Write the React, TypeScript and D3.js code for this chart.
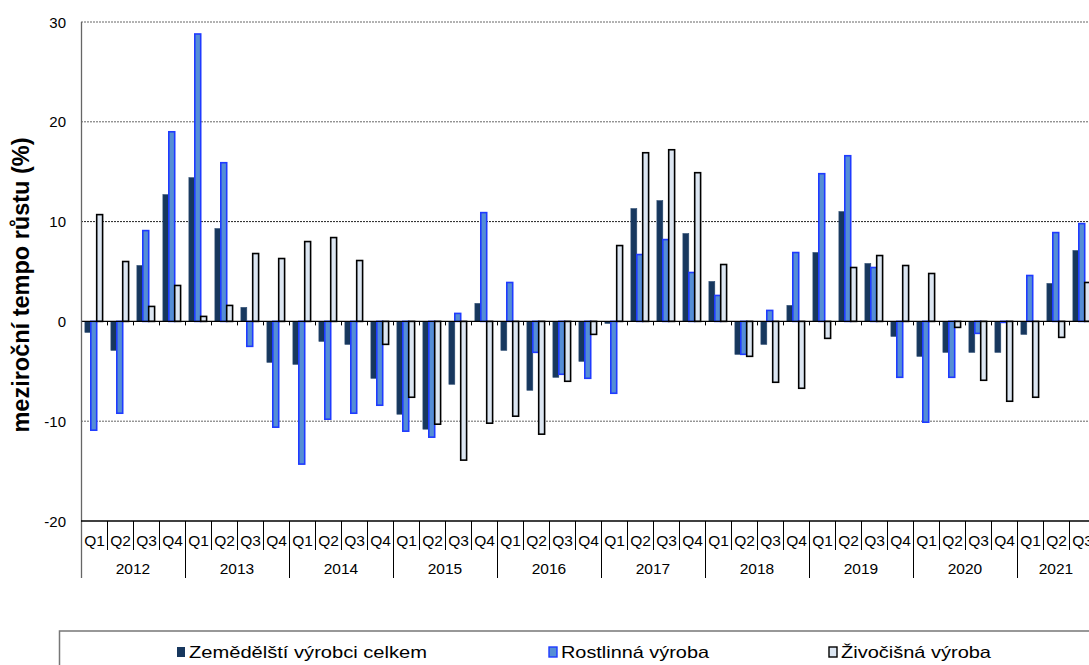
import React, { useEffect, useRef } from "react";
import * as d3 from "d3";

const years = ["2012", "2013", "2014", "2015", "2016", "2017", "2018", "2019", "2020", "2021"];
const quarters = ["Q1", "Q2", "Q3", "Q4"];
const categories: { year: string; q: string }[] = [];
years.forEach((y) => quarters.forEach((q) => { if (!(y === "2021" && q === "Q4")) categories.push({ year: y, q }); }));

const seriesNames = ["Zemědělští výrobci celkem", "Rostlinná výroba", "Živočišná výroba"];

const celkem = [
  -1.1, -2.9, 5.6, 12.7,
  14.4, 9.3, 1.4, -4.1,
  -4.3, -2.0, -2.3, -5.7,
  -9.3, -10.8, -6.3, 1.8,
  -2.9, -6.9, -5.6, -4.0,
  -0.2, 11.3, 12.1, 8.8,
  4.0, -3.3, -2.3, 1.6,
  6.9, 11.0, 5.8, -1.5,
  -3.5, -3.1, -3.1, -3.1,
  -1.3, 3.8, 7.1,
];
const rostlinna = [
  -10.9, -9.2, 9.1, 19.0,
  28.8, 15.9, -2.5, -10.6,
  -14.3, -9.8, -9.2, -8.4,
  -11.0, -11.6, 0.8, 10.9,
  3.9, -3.1, -5.3, -5.7,
  -7.2, 6.7, 8.2, 4.9,
  2.6, -3.3, 1.1, 6.9,
  14.8, 16.6, 5.4, -5.6,
  -10.1, -5.6, -1.2, -0.1,
  4.6, 8.9, 9.8,
];
const zivocisna = [
  10.7, 6.0, 1.5, 3.6,
  0.5, 1.6, 6.8, 6.3,
  8.0, 8.4, 6.1, -2.3,
  -7.6, -10.3, -13.9, -10.2,
  -9.5, -11.3, -6.0, -1.3,
  7.6, 16.9, 17.2, 14.9,
  5.7, -3.5, -6.1, -6.7,
  -1.7, 5.4, 6.6, 5.6,
  4.8, -0.6, -5.9, -8.0,
  -7.6, -1.6, 3.9,
];
const yTicks = [30, 20, 10, 0, -10, -20];

const W = 1089;
const H = 665;
const left = 81;
const top = 22;
const bottom = 521;
const step = 26;

const styles = [
  { fill: "#17375E", stroke: "#2A4A70", sw: 0.6 },
  { fill: "#558ED5", stroke: "#1F3BFF", sw: 1.6 },
  { fill: "#DCE6F2", stroke: "#000000", sw: 1.6 },
];

export default function App() {
  const ref = useRef<SVGSVGElement>(null);
  useEffect(() => {
    const svg = d3.select(ref.current);
    svg.selectAll("*").remove();
    const font = "Arial, 'Liberation Sans', sans-serif";
    const keys = categories.map((c) => c.year + c.q);
    const x = d3.scaleBand().domain(keys).range([left, left + keys.length * step]).paddingInner(0).paddingOuter(0);
    const y = d3.scaleLinear().domain([-20, 30]).range([bottom, top]);
    const xs = d3.scaleBand().domain(["0", "1", "2"]).range([3.9, 21.6]).padding(0);
    const right = W + 20;

    // gridlines
    const grid = svg.append("g");
    yTicks.filter((t) => t !== 0 && t !== -20).forEach((t) => {
      grid.append("line").attr("x1", left).attr("x2", right).attr("y1", y(t)).attr("y2", y(t))
        .attr("stroke", t === 10 ? "#222" : "#666").attr("stroke-width", 1).attr("stroke-dasharray", "2,1");
    });

    // bars
    const series = [celkem, rostlinna, zivocisna];
    series.forEach((vals, si) => {
      const st = styles[si];
      svg.append("g").selectAll("rect").data(vals).join("rect")
        .attr("x", (_d, i) => (x(keys[i]) as number) + (xs(String(si)) as number))
        .attr("width", xs.bandwidth())
        .attr("y", (d) => y(Math.max(0, d)))
        .attr("height", (d) => Math.abs(y(d) - y(0)))
        .attr("fill", st.fill)
        .attr("stroke", st.stroke)
        .attr("stroke-width", st.sw);
    });

    // zero axis
    svg.append("line").attr("x1", left).attr("x2", right).attr("y1", y(0)).attr("y2", y(0)).attr("stroke", "#000").attr("stroke-width", 1.3);
    keys.forEach((k, i) => {
      if (i === 0) return;
      const xx = Math.round(x(k) as number) + 0.5;
      svg.append("line").attr("x1", xx).attr("x2", xx).attr("y1", y(0)).attr("y2", y(0) + 4).attr("stroke", "#000").attr("stroke-width", 1);
    });

    // left axis
    svg.append("line").attr("x1", left + 0.5).attr("x2", left + 0.5).attr("y1", top).attr("y2", 578).attr("stroke", "#666").attr("stroke-width", 1.3);

    // bottom line
    svg.append("line").attr("x1", left).attr("x2", right).attr("y1", bottom).attr("y2", bottom).attr("stroke", "#000").attr("stroke-width", 1.3);

    // y tick labels
    svg.append("g").selectAll("text").data(yTicks).join("text")
      .attr("x", 66).attr("y", (d) => y(d) + 5.5)
      .attr("text-anchor", "end").attr("font-family", font).attr("font-size", 15).attr("fill", "#000")
      .text((d) => String(d));

    // category labels
    keys.forEach((k, i) => {
      const x0 = x(k) as number;
      svg.append("text").attr("x", x0 + step / 2 + 0.5).attr("y", 546).attr("text-anchor", "middle")
        .attr("font-family", font).attr("font-size", 15.5).attr("fill", "#000").text(categories[i].q);
      if (i > 0) {
        const isYear = categories[i].q === "Q1";
        const xx = Math.round(x0) + 0.5;
        svg.append("line").attr("x1", xx).attr("x2", xx).attr("y1", bottom).attr("y2", isYear ? 578 : 550)
          .attr("stroke", "#000").attr("stroke-width", 1);
      }
    });
    years.forEach((yr) => {
      const idx = keys.map((k, i) => (categories[i].year === yr ? i : -1)).filter((i) => i >= 0);
      const x0 = x(keys[idx[0]]) as number;
      const x1 = (x(keys[idx[idx.length - 1]]) as number) + step;
      svg.append("text").attr("x", (x0 + x1) / 2).attr("y", 574).attr("text-anchor", "middle")
        .attr("font-family", font).attr("font-size", 15.5).attr("fill", "#000").text(yr);
    });

    // y title
    svg.append("text").attr("transform", `translate(29,285) rotate(-90)`)
      .attr("text-anchor", "middle").attr("font-family", font).attr("font-weight", "bold")
      .attr("font-size", 23.5).attr("fill", "#000").text("meziroční tempo růstu (%)");

    // legend
    svg.append("rect").attr("x", 59.5).attr("y", 631).attr("width", 1100).attr("height", 60)
      .attr("fill", "#fff").attr("stroke", "#777").attr("stroke-width", 1.5);
    const legX = [177, 549, 829];
    const legLen = [238, 148, 150];
    seriesNames.forEach((n, i) => {
      const st = styles[i];
      svg.append("rect").attr("x", legX[i]).attr("y", 647).attr("width", 8).attr("height", 10)
        .attr("fill", st.fill).attr("stroke", st.stroke).attr("stroke-width", i === 0 ? 0 : 1.4);
      svg.append("text").attr("x", legX[i] + 12).attr("y", 658).attr("font-family", font)
        .attr("font-size", 16.5).attr("fill", "#000")
        .attr("textLength", legLen[i]).attr("lengthAdjust", "spacingAndGlyphs").text(n);
    });
  }, []);
  return (
    <svg ref={ref} width={W} height={H} style={{ position: "absolute", left: 0, top: 0, background: "#fff", overflow: "hidden" }} />
  );
}
